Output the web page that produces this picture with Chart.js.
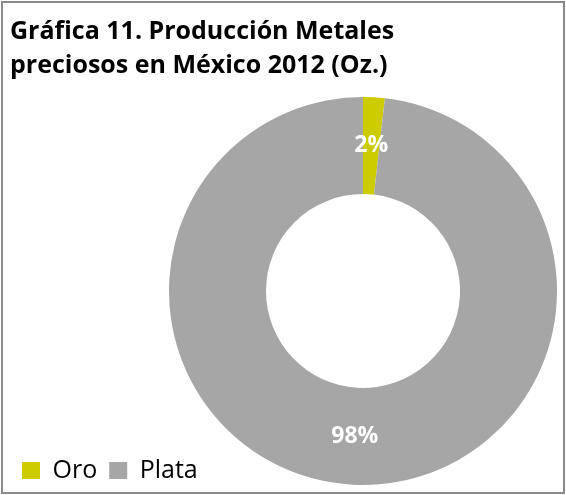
<!DOCTYPE html>
<html>
<head>
<meta charset="utf-8">
<script src="https://cdn.jsdelivr.net/npm/chart.js@4"></script>
<style>
  html, body { margin: 0; padding: 0; background: #fff; }
  #wrap { position: relative; width: 566px; height: 495px; }
  #frame { position: absolute; left: 1px; top: 1px; width: 564px; height: 493px;
           border: 2px solid #8a8a8a; box-sizing: border-box; }
  #c { position: absolute; left: 0; top: 0; }
</style>
</head>
<body>
<div id="wrap">
  <div id="frame"></div>
  <canvas id="c" width="566" height="495"></canvas>
</div>
<script>
// ---- data ----
const categories = ['Oro', 'Plata'];
const shares = [1.8, 98.2];            // % of ounces produced
const colors = ['#CCCC00', '#A6A6A6'];
const titleLines = ['Gráfica 11. Producción Metales', 'preciosos en México 2012 (Oz.)'];

const FONT = '"Open Sans", sans-serif';

// place the doughnut area like the reference (ring centre right of middle)
const areaPlugin = {
  id: 'areaPlugin',
  afterLayout(chart) {
    const a = chart.chartArea;
    a.left = 169; a.right = 557; a.top = 97; a.bottom = 485;
    a.width = a.right - a.left; a.height = a.bottom - a.top;
  }
};

// percentage labels in white, bold, at the middle of each arc
const labelPlugin = {
  id: 'labelPlugin',
  afterDatasetsDraw(chart) {
    const ctx = chart.ctx;
    const meta = chart.getDatasetMeta(0);
    const data = chart.data.datasets[0].data;
    const total = data.reduce((s, v) => s + v, 0);
    ctx.save();
    ctx.fillStyle = '#ffffff';
    ctx.font = 'bold 23px ' + FONT;
    ctx.textAlign = 'center';
    ctx.textBaseline = 'middle';
    meta.data.forEach((arc, i) => {
      const p = arc.tooltipPosition();
      const pct = Math.round(data[i] / total * 100) + '%';
      ctx.fillText(pct, p.x, p.y);
    });
    ctx.restore();
  }
};

new Chart(document.getElementById('c'), {
  type: 'doughnut',
  data: {
    labels: categories,
    datasets: [{
      data: shares,
      backgroundColor: colors,
      borderWidth: 0,
      clip: false
    }]
  },
  options: {
    responsive: false,
    animation: false,
    cutout: '50%',
    layout: { padding: { left: 10, top: 0, right: 10, bottom: 2 } },
    plugins: {
      title: {
        display: true,
        text: titleLines,
        align: 'start',
        color: '#000000',
        font: { family: FONT, size: 25, weight: 'bold', lineHeight: 1.36 },
        padding: { top: 15, bottom: 10 }
      },
      legend: {
        display: true,
        position: 'bottom',
        align: 'start',
        labels: {
          color: '#000000',
          font: { family: FONT, size: 25 },
          boxWidth: 18,
          boxHeight: 17,
          padding: 12
        }
      },
      tooltip: { enabled: false }
    }
  },
  plugins: [areaPlugin, labelPlugin]
});
</script>
</body>
</html>
